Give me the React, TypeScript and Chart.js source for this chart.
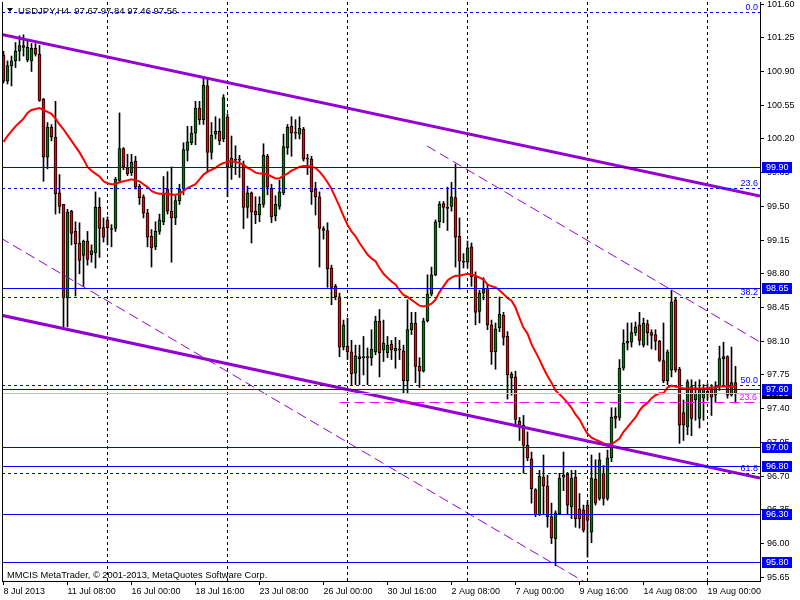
import React, { useEffect, useRef } from 'react';
import { Chart, registerables } from 'chart.js';

Chart.register(...registerables);

// ---------- data (USDJPY, H4) ----------
const SYMBOL = 'USDJPY,H4';

const OPEN = [
  101.07, 100.80, 100.96, 101.01, 101.11, 101.17, 101.02, 101.01, 101.14, 101.08,
  100.61, 100.01, 100.32, 100.22, 99.64, 99.52, 98.55, 99.45, 99.24, 99.12,
  98.99, 99.14, 99.00, 99.02, 99.49, 99.28, 99.36, 99.27, 99.27, 99.77,
  100.10, 99.90, 99.85, 99.97, 99.71, 99.60, 99.43, 99.19, 99.08, 99.24,
  99.34, 99.68, 99.45, 99.38, 99.56, 99.68, 100.08, 100.16, 100.26, 100.52,
  100.40, 100.75, 100.06, 100.25, 100.28, 100.20, 100.43, 99.91, 99.99, 99.98,
  99.93, 99.49, 99.64, 99.45, 99.41, 99.52, 100.02, 99.69, 99.40, 99.50,
  99.64, 100.11, 100.33, 100.26, 100.25, 100.30, 100.00, 99.99, 99.68, 99.60,
  99.27, 99.25, 98.86, 98.67, 98.56, 98.04, 98.05, 97.99, 97.77, 97.94,
  97.93, 97.94, 97.93, 97.99, 98.31, 98.01, 97.98, 98.07, 98.00, 98.02,
  98.00, 97.69, 98.22, 98.29, 97.84, 97.79, 98.31, 98.59, 98.79, 99.34,
  99.53, 99.49, 99.50, 99.59, 99.19, 98.93, 98.92, 99.08, 98.77, 98.41,
  98.60, 98.65, 98.27, 97.99, 98.24, 98.37, 98.15, 97.72, 97.73, 97.27,
  97.23, 97.02, 96.88, 96.56, 96.30, 96.69, 96.60, 96.28, 96.05, 96.31,
  96.69, 96.72, 96.38, 96.69, 96.36, 96.35, 96.40, 96.12, 96.67, 96.47,
  96.73, 96.47, 96.89, 97.32, 97.31, 97.82, 98.08, 98.09, 98.19, 98.27,
  98.06, 98.28, 98.19, 98.17, 98.10, 97.90, 97.69, 97.80, 98.53, 97.81,
  97.36, 97.21, 97.63, 97.49, 97.30, 97.51, 97.58, 97.61, 97.54, 97.63,
  97.92, 97.94, 97.54, 97.67,
];

const HIGH = [
  101.11, 101.01, 101.06, 101.20, 101.27, 101.28, 101.22, 101.19, 101.19, 101.17,
  100.62, 100.37, 100.35, 100.59, 99.83, 99.52, 99.47, 99.46, 99.34, 99.33,
  99.15, 99.24, 99.10, 99.65, 99.59, 99.38, 99.39, 99.31, 99.80, 100.47,
  100.11, 100.04, 100.04, 100.02, 99.73, 99.62, 99.47, 99.26, 99.34, 99.42,
  99.81, 99.86, 99.91, 99.61, 99.73, 100.16, 100.33, 100.33, 100.59, 100.59,
  100.84, 100.83, 100.37, 100.43, 100.41, 100.66, 100.46, 100.23, 100.13, 100.03,
  99.97, 99.71, 99.65, 99.60, 99.60, 100.15, 100.04, 99.73, 99.61, 99.77,
  100.25, 100.35, 100.43, 100.40, 100.43, 100.32, 100.04, 100.02, 99.75, 99.65,
  99.29, 99.33, 98.89, 98.69, 98.60, 98.32, 98.34, 98.11, 98.06, 98.06,
  98.15, 98.03, 98.22, 98.36, 98.43, 98.32, 98.15, 98.11, 98.14, 98.11,
  98.06, 98.53, 98.40, 98.40, 97.93, 98.34, 98.79, 98.87, 99.36, 99.55,
  99.55, 99.70, 99.75, 99.94, 99.38, 99.01, 99.14, 99.12, 98.82, 98.63,
  98.76, 98.69, 98.32, 98.29, 98.56, 98.40, 98.20, 97.78, 97.79, 97.31,
  97.33, 97.16, 96.95, 96.57, 96.76, 96.92, 96.71, 96.42, 96.34, 96.73,
  96.95, 96.74, 96.76, 96.76, 96.52, 96.40, 96.45, 96.92, 96.87, 96.94,
  96.81, 96.97, 97.41, 97.41, 97.91, 98.22, 98.29, 98.29, 98.30, 98.40,
  98.34, 98.32, 98.22, 98.22, 98.11, 98.29, 98.01, 98.63, 98.55, 97.83,
  97.49, 97.70, 97.70, 97.68, 97.70, 97.65, 97.66, 97.65, 97.68, 98.05,
  98.09, 97.95, 98.04, 97.84,
];

const LOW = [
  100.78, 100.77, 100.75, 100.94, 101.01, 101.06, 101.00, 100.90, 101.06, 100.59,
  99.76, 99.89, 100.18, 99.42, 99.43, 98.25, 98.25, 99.10, 98.57, 98.80,
  98.67, 98.89, 98.92, 98.86, 98.97, 99.13, 99.10, 99.08, 99.24, 99.75,
  99.88, 99.82, 99.82, 99.68, 99.52, 99.38, 99.08, 98.87, 99.05, 99.21,
  99.31, 99.42, 98.92, 99.31, 99.52, 99.62, 99.97, 100.14, 100.14, 100.35,
  100.35, 99.85, 99.99, 100.20, 100.14, 100.17, 99.60, 99.78, 99.83, 99.80,
  99.27, 99.38, 99.12, 99.32, 99.34, 99.49, 99.62, 99.33, 99.35, 99.47,
  99.62, 100.04, 100.02, 100.20, 100.20, 99.97, 99.83, 99.52, 99.41, 98.87,
  99.16, 98.66, 98.48, 98.53, 97.94, 98.01, 97.91, 97.65, 97.65, 97.65,
  97.75, 97.65, 97.85, 97.96, 97.73, 97.89, 97.93, 97.91, 97.82, 97.91,
  97.56, 97.56, 98.17, 97.67, 97.62, 97.78, 98.30, 98.57, 98.78, 99.28,
  99.33, 99.25, 99.45, 98.87, 98.64, 98.86, 98.86, 98.67, 98.27, 98.29,
  98.53, 98.22, 97.86, 97.81, 98.20, 98.06, 97.50, 97.54, 97.23, 97.07,
  96.73, 96.86, 96.42, 96.28, 96.29, 96.30, 96.17, 96.00, 95.77, 96.30,
  96.55, 96.31, 96.26, 96.17, 96.16, 96.12, 95.86, 96.01, 96.40, 96.45,
  96.40, 96.45, 96.85, 97.20, 97.28, 97.80, 98.01, 98.04, 98.16, 98.06,
  98.04, 98.06, 98.02, 98.01, 97.89, 97.67, 97.65, 97.73, 97.78, 97.04,
  97.07, 97.13, 97.12, 97.28, 97.20, 97.28, 97.49, 97.33, 97.47, 97.59,
  97.65, 97.51, 97.53, 97.46,
];

const CLOSE = [
  100.80, 100.96, 101.01, 101.11, 101.17, 101.15, 101.15, 101.14, 101.08, 100.60,
  100.01, 100.32, 100.22, 99.63, 99.50, 98.55, 99.44, 99.22, 99.11, 98.94,
  99.14, 98.95, 99.04, 99.49, 99.27, 99.18, 99.28, 99.26, 99.78, 100.10,
  99.91, 99.84, 99.96, 99.70, 99.59, 99.43, 99.18, 99.07, 99.24, 99.36,
  99.62, 99.45, 99.38, 99.56, 99.68, 100.09, 100.17, 100.26, 100.52, 100.40,
  100.76, 100.06, 100.24, 100.28, 100.18, 100.63, 99.91, 100.00, 99.98, 99.99,
  99.49, 99.64, 99.44, 99.41, 99.52, 100.03, 99.70, 99.39, 99.52, 99.65,
  100.12, 100.32, 100.26, 100.27, 100.31, 99.99, 99.99, 99.65, 99.60, 99.27,
  99.25, 98.85, 98.66, 98.56, 98.04, 98.27, 97.99, 97.76, 97.95, 97.92,
  97.94, 97.93, 98.02, 98.31, 97.98, 98.08, 98.06, 98.01, 98.03, 98.01,
  97.69, 98.22, 98.29, 97.84, 97.79, 98.31, 98.59, 98.79, 99.34, 99.52,
  99.49, 99.48, 99.60, 99.18, 98.93, 98.92, 99.07, 98.77, 98.40, 98.60,
  98.64, 98.27, 97.99, 98.23, 98.38, 98.14, 97.75, 97.76, 97.29, 97.23,
  97.02, 96.89, 96.57, 96.30, 96.70, 96.60, 96.28, 96.06, 96.32, 96.68,
  96.71, 96.40, 96.68, 96.26, 96.26, 96.14, 96.24, 96.68, 96.42, 96.87,
  96.47, 96.89, 97.31, 97.30, 97.82, 98.08, 98.10, 98.19, 98.25, 98.11,
  98.29, 98.19, 98.16, 98.10, 97.90, 97.69, 97.99, 98.51, 97.80, 97.23,
  97.23, 97.68, 97.30, 97.56, 97.61, 97.61, 97.55, 97.52, 97.63, 97.92,
  97.94, 97.54, 97.67, 97.56,
];

// moving average as drawn on the chart
const MA = [
  100.17, 100.23, 100.28, 100.33, 100.37, 100.41, 100.47, 100.50, 100.51, 100.52,
  100.50, 100.48, 100.46, 100.41, 100.35, 100.30, 100.24, 100.18, 100.12, 100.06,
  99.99, 99.91, 99.87, 99.84, 99.81, 99.76, 99.74, 99.73, 99.73, 99.75,
  99.76, 99.77, 99.78, 99.77, 99.76, 99.73, 99.70, 99.66, 99.64, 99.63,
  99.63, 99.63, 99.62, 99.62, 99.63, 99.66, 99.69, 99.71, 99.73, 99.78,
  99.83, 99.86, 99.88, 99.90, 99.93, 99.95, 99.96, 99.97, 99.96, 99.95,
  99.93, 99.90, 99.88, 99.85, 99.84, 99.84, 99.83, 99.81, 99.79, 99.79,
  99.82, 99.84, 99.87, 99.89, 99.91, 99.92, 99.92, 99.91, 99.90, 99.86,
  99.81, 99.75, 99.68, 99.59, 99.50, 99.40, 99.31, 99.24, 99.19, 99.12,
  99.06, 99.00, 98.96, 98.93, 98.86, 98.80, 98.76, 98.72, 98.69, 98.63,
  98.58, 98.56, 98.53, 98.50, 98.47, 98.46, 98.47, 98.49, 98.53, 98.61,
  98.67, 98.73, 98.76, 98.78, 98.78, 98.79, 98.80, 98.79, 98.78, 98.76,
  98.74, 98.69, 98.67, 98.66, 98.63, 98.59, 98.55, 98.52, 98.45, 98.34,
  98.24, 98.18, 98.07, 97.99, 97.91, 97.82, 97.74, 97.67, 97.59, 97.55,
  97.51, 97.46, 97.41, 97.34, 97.29, 97.21, 97.14, 97.10, 97.08, 97.06,
  97.04, 97.03, 97.03, 97.06, 97.09, 97.16, 97.21, 97.26, 97.31, 97.38,
  97.43, 97.46, 97.51, 97.54, 97.56, 97.56, 97.62, 97.64, 97.63, 97.62,
  97.61, 97.61, 97.61, 97.61, 97.61, 97.61, 97.61, 97.62, 97.62, 97.63,
  97.63, 97.63, 97.63, 97.63,
];

// time axis
const X_TICK_BARS = [0, 16, 32, 48, 64, 80, 96, 112, 128, 144, 160, 176];
const X_TICK_LABELS = [
  '8 Jul 2013', '11 Jul 08:00', '16 Jul 00:00', '18 Jul 16:00', '23 Jul 08:00', '26 Jul 00:00',
  '30 Jul 16:00', '2 Aug 08:00', '7 Aug 00:00', '9 Aug 16:00', '14 Aug 08:00', '19 Aug 00:00',
];
const WEEK_BARS = [26, 56, 86, 116, 146, 176];

// price axis
const Y_TICKS = [
  95.65, 96.0, 96.35, 96.7, 97.05, 97.4, 97.75, 98.1, 98.45, 98.8,
  99.15, 99.5, 99.85, 100.2, 100.55, 100.9, 101.25, 101.6,
];
const X_MIN = -0.375;
const X_MAX = 189.125;
const Y_MIN = 95.612;
const Y_MAX = 101.621;

// objects
const LEVELS = [99.9, 98.65, 97.6, 97.0, 96.8, 96.3, 95.8];
const FIB_START = 101.517;
const FIB_END = 93.769;
const FIB_RATIOS = [0, 0.236, 0.382, 0.5, 0.618];
const FIB_LABELS = ['0.0', '23.6', '38.2', '50.0', '61.8'];
const MAGENTA_LEVEL = 97.467;
const MAGENTA_LABEL = '23.6';
const MAGENTA_FROM_BAR = 84;

const UPPER_CHANNEL = [{ x: -0.875, y: 101.289 }, { x: 189.125, y: 99.608 }];
const LOWER_CHANNEL = [{ x: -0.875, y: 98.373 }, { x: 189.125, y: 96.681 }];
const DASH_LINE_A = [{ x: -0.875, y: 99.176 }, { x: 146.5, y: 95.572 }];
const DASH_LINE_B = [{ x: 105.875, y: 100.127 }, { x: 189.125, y: 98.092 }];

const COPYRIGHT = 'MMCIS MetaTrader, \u00A9 2001-2013, MetaQuotes Software Corp.';

const FONT = "'Liberation Sans', Arial, sans-serif";
const BULL = '#008000';
const BEAR = '#ff0000';
const PURPLE = '#9400d3';
const BLUE = '#0000ff';

export default function App() {
  const ref = useRef<HTMLCanvasElement>(null);

  useEffect(() => {
    const canvas = ref.current;
    if (!canvas) return;
    const n = OPEN.length;
    const idx = OPEN.map((_, i) => i);
    const wickData = idx.map((i) => ({ x: i, y: [LOW[i], HIGH[i]] }));
    const bodyData = idx.map((i) => ({ x: i, y: [OPEN[i], CLOSE[i]] }));
    const bodyColors = idx.map((i) => (CLOSE[i] >= OPEN[i] ? BULL : BEAR));
    const maData = MA.map((v, i) => ({ x: i, y: v }));
    const fibPrices = FIB_RATIOS.map((r) => FIB_START - r * (FIB_START - FIB_END));
    const bid = CLOSE[n - 1];

    const rowOf = (chart: any, v: number) => Math.floor(chart.scales.y.getPixelForValue(v));

    const hline = (chart: any, price: number, color: string, dash: number[], fromX?: number) => {
      const { ctx, chartArea: a } = chart;
      const yy = rowOf(chart, price) + 0.5;
      const x0 = fromX === undefined ? a.left : Math.max(a.left, fromX);
      ctx.save();
      ctx.strokeStyle = color;
      ctx.lineWidth = 1;
      ctx.setLineDash(dash);
      ctx.beginPath();
      ctx.moveTo(x0, yy);
      ctx.lineTo(a.right, yy);
      ctx.stroke();
      ctx.restore();
    };

    const mt4 = {
      id: 'mt4',
      beforeDatasetsDraw(chart: any) {
        const { ctx, chartArea: a, scales } = chart;
        ctx.save();
        ctx.strokeStyle = '#000';
        ctx.lineWidth = 1;
        ctx.setLineDash([3, 3]);
        for (const b of WEEK_BARS) {
          const px = Math.floor(scales.x.getPixelForValue(b)) + 0.5;
          ctx.beginPath();
          ctx.moveTo(px, a.top);
          ctx.lineTo(px, a.bottom);
          ctx.stroke();
        }
        ctx.restore();
      },
      afterDatasetsDraw(chart: any) {
        const { ctx, chartArea: a, scales } = chart;
        ctx.save();
        ctx.beginPath();
        ctx.rect(a.left, a.top, a.right - a.left, a.bottom - a.top);
        ctx.clip();
        hline(chart, bid, '#c0c0c0', []);
        fibPrices.forEach((p) => hline(chart, p, BLUE, [3, 3]));
        LEVELS.forEach((p) => hline(chart, p, BLUE, []));
        hline(chart, MAGENTA_LEVEL, '#ff00ff', [10, 5], scales.x.getPixelForValue(MAGENTA_FROM_BAR));
        ctx.font = `9px ${FONT}`;
        ctx.textAlign = 'right';
        ctx.textBaseline = 'alphabetic';
        ctx.fillStyle = BLUE;
        fibPrices.forEach((p, i) => {
          ctx.fillText(FIB_LABELS[i], a.right - 2, rowOf(chart, p) - 2);
        });
        ctx.fillStyle = '#ff00ff';
        ctx.fillText(MAGENTA_LABEL, a.right - 3, rowOf(chart, MAGENTA_LEVEL) - 2);
        ctx.restore();
      },
      afterDraw(chart: any) {
        const { ctx, chartArea: a } = chart;
        ctx.save();
        // left frame
        ctx.strokeStyle = '#000';
        ctx.lineWidth = 1;
        ctx.beginPath();
        ctx.moveTo(a.left + 0.5, a.top);
        ctx.lineTo(a.left + 0.5, a.bottom);
        ctx.stroke();

        // price boxes on the axis
        ctx.font = `9px ${FONT}`;
        ctx.textAlign = 'left';
        ctx.textBaseline = 'middle';
        const box = (price: number, fill: string) => {
          const r = rowOf(chart, price);
          ctx.fillStyle = fill;
          ctx.fillRect(a.right + 2, r - 5, 30, 11);
          ctx.fillStyle = '#fff';
          ctx.fillText(price.toFixed(2), a.right + 6, r + 1);
        };
        box(bid, '#000');
        LEVELS.forEach((p) => box(p, BLUE));

        // title
        ctx.fillStyle = '#000';
        ctx.beginPath();
        ctx.moveTo(7, 8);
        ctx.lineTo(13, 8);
        ctx.lineTo(10, 12);
        ctx.closePath();
        ctx.fill();
        ctx.font = `9.5px ${FONT}`;
        ctx.textBaseline = 'middle';
        const last = n - 1;
        const title = `${SYMBOL}  ${OPEN[last].toFixed(2)} ${HIGH[last].toFixed(2)} ${LOW[last].toFixed(2)} ${CLOSE[last].toFixed(2)}`;
        ctx.fillText(title, 18, 11.5);

        // copyright
        ctx.font = `9.3px ${FONT}`;
        ctx.fillText(COPYRIGHT, 7, 575.5);
        ctx.restore();
      },
    };

    const chart = new Chart(canvas, {
      type: 'bar',
      data: {
        datasets: [
          {
            type: 'bar',
            data: wickData as any,
            backgroundColor: '#000',
            borderWidth: 0,
            barThickness: 1,
            grouped: false,
            order: 10,
          },
          {
            type: 'bar',
            data: bodyData as any,
            backgroundColor: bodyColors,
            borderColor: '#000',
            borderWidth: 1,
            borderSkipped: false,
            barThickness: 3,
            minBarLength: 1,
            grouped: false,
            order: 9,
          },
          {
            type: 'line',
            data: maData as any,
            borderColor: '#ff0000',
            borderWidth: 2,
            pointRadius: 0,
            tension: 0,
            order: 5,
          },
          {
            type: 'line',
            data: DASH_LINE_A as any,
            borderColor: PURPLE,
            borderWidth: 1,
            borderDash: [10, 5],
            pointRadius: 0,
            order: 4,
          },
          {
            type: 'line',
            data: DASH_LINE_B as any,
            borderColor: PURPLE,
            borderWidth: 1,
            borderDash: [10, 5],
            pointRadius: 0,
            order: 3,
          },
          {
            type: 'line',
            data: UPPER_CHANNEL as any,
            borderColor: PURPLE,
            borderWidth: 3,
            pointRadius: 0,
            order: 2,
          },
          {
            type: 'line',
            data: LOWER_CHANNEL as any,
            borderColor: PURPLE,
            borderWidth: 3,
            pointRadius: 0,
            order: 1,
          },
        ],
      },
      options: {
        responsive: false,
        maintainAspectRatio: false,
        animation: false,
        devicePixelRatio: 1,
        events: [],
        layout: { padding: { left: 2, top: 2, right: 0, bottom: 0 } },
        plugins: { legend: { display: false }, tooltip: { enabled: false }, title: { display: false } },
        scales: {
          x: {
            type: 'linear',
            min: X_MIN,
            max: X_MAX,
            offset: false,
            afterBuildTicks: (scale: any) => {
              scale.ticks = X_TICK_BARS.map((v) => ({ value: v }));
            },
            afterFit: (scale: any) => {
              scale.height = 19;
              scale.paddingLeft = 0;
              scale.paddingRight = 0;
            },
            ticks: {
              autoSkip: false,
              maxRotation: 0,
              minRotation: 0,
              align: 'start',
              padding: 1,
              color: '#000',
              font: { family: FONT, size: 9 },
              callback: (value: any) => {
                const k = X_TICK_BARS.indexOf(Number(value));
                return k >= 0 ? X_TICK_LABELS[k] : '';
              },
            },
            grid: {
              display: true,
              drawOnChartArea: false,
              drawTicks: true,
              tickLength: 4,
              tickColor: '#000',
              color: '#000',
              offset: false,
            },
            border: { display: true, color: '#000', width: 1 },
          },
          y: {
            type: 'linear',
            position: 'right',
            min: Y_MIN,
            max: Y_MAX,
            beginAtZero: false,
            afterBuildTicks: (scale: any) => {
              scale.ticks = Y_TICKS.map((v) => ({ value: v }));
            },
            afterFit: (scale: any) => {
              scale.width = 40;
              scale.paddingTop = 0;
              scale.paddingBottom = 0;
            },
            ticks: {
              autoSkip: false,
              padding: 3,
              color: '#000',
              font: { family: FONT, size: 9 },
              callback: (value: any) => Number(value).toFixed(2),
            },
            grid: {
              display: true,
              drawOnChartArea: false,
              drawTicks: true,
              tickLength: 4,
              tickColor: '#000',
              color: '#000',
            },
            border: { display: true, color: '#000', width: 1 },
          },
        },
      } as any,
      plugins: [mt4 as any],
    });

    return () => chart.destroy();
  }, []);

  return (
    <div style={{ position: 'fixed', left: 0, top: 0, width: 800, height: 600, background: '#fff' }}>
      <canvas ref={ref} width={800} height={600} style={{ display: 'block', width: 800, height: 600 }} />
    </div>
  );
}
